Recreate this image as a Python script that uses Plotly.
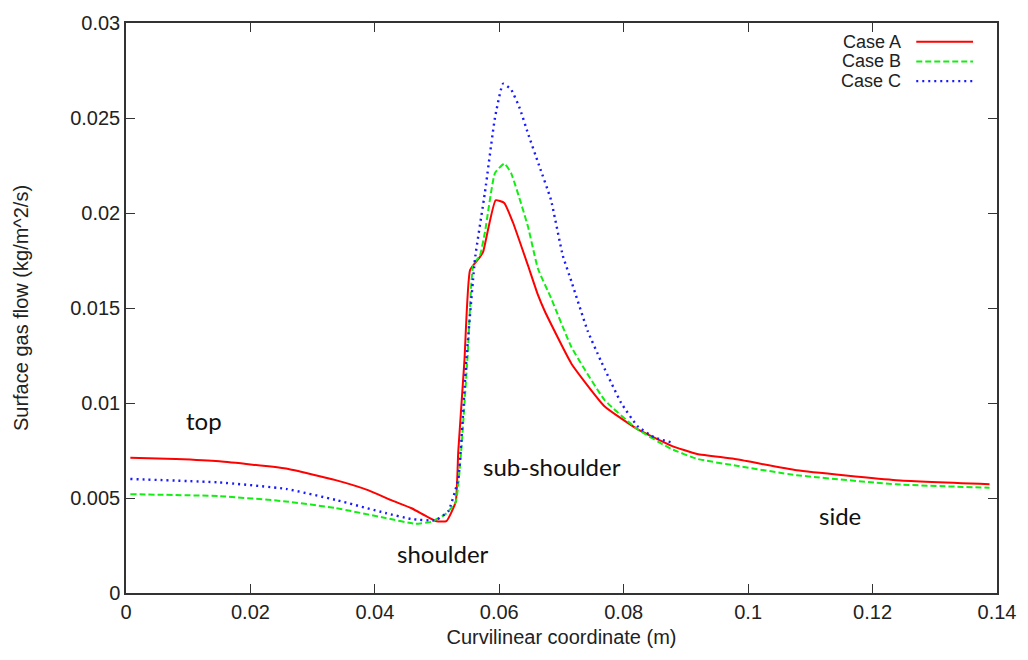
import plotly.graph_objects as go

# ---------------- data ----------------
case_a_x = [0.0007, 0.008, 0.015, 0.0257, 0.0337, 0.039, 0.0425, 0.0459, 0.0499, 0.0515,
            0.053, 0.0534, 0.0544, 0.0553, 0.0569, 0.0574, 0.0594, 0.0608, 0.0622, 0.0646, 0.0662,
            0.0673, 0.0716, 0.0769, 0.0822, 0.0876, 0.0918, 0.0977, 0.1078, 0.1238, 0.1388]
case_a_y = [0.00712, 0.00705, 0.00693, 0.00655, 0.00594, 0.0054, 0.0049, 0.00446, 0.00378, 0.00378,
            0.0048, 0.0074, 0.01224, 0.0170, 0.01769, 0.01795, 0.02067, 0.02053, 0.0195, 0.01725, 0.0157,
            0.01484, 0.01207, 0.00983, 0.00862, 0.00776, 0.00732, 0.00706, 0.00646, 0.00594, 0.00573]

case_b_x = [0.0007, 0.015, 0.0257, 0.0337, 0.0417, 0.0465, 0.0491, 0.0513, 0.053, 0.0549, 0.0558,
            0.0569, 0.0577, 0.0593, 0.0608, 0.0619, 0.0646, 0.0662, 0.0683, 0.0716, 0.0769, 0.0822,
            0.0876, 0.0918, 0.0977, 0.1078, 0.1238, 0.1388]
case_b_y = [0.0052, 0.0051, 0.00482, 0.00447, 0.00395, 0.00364, 0.00375, 0.00414, 0.0048, 0.01243, 0.01725,
            0.01777, 0.0190, 0.0221, 0.0226, 0.0221, 0.0193, 0.01708, 0.01554, 0.01294, 0.01017, 0.00862,
            0.00759, 0.00706, 0.00672, 0.0062, 0.00572, 0.00554]

case_c_x = [0.0007, 0.015, 0.0257, 0.0337, 0.0417, 0.0459, 0.0498, 0.0518, 0.0534, 0.0547, 0.0561,
            0.0577, 0.0593, 0.0606, 0.0619, 0.0633, 0.0646, 0.0664, 0.0683, 0.0702, 0.0716, 0.0742, 0.0763,
            0.0796, 0.0822, 0.0849, 0.0881]
case_c_y = [0.0060, 0.00582, 0.00548, 0.0049, 0.00421, 0.00389, 0.00383, 0.0043, 0.0060, 0.01224, 0.0176,
            0.0211, 0.0250, 0.0268, 0.0265, 0.0255, 0.0242, 0.0225, 0.0207, 0.01777, 0.01639, 0.0138, 0.01224,
            0.0100, 0.00879, 0.00819, 0.00789]

series_names = ["Case A", "Case B", "Case C"]

x_tick_vals = [0, 0.02, 0.04, 0.06, 0.08, 0.1, 0.12, 0.14]
x_tick_text = ["0", "0.02", "0.04", "0.06", "0.08", "0.1", "0.12", "0.14"]
y_tick_vals = [0, 0.005, 0.01, 0.015, 0.02, 0.025, 0.03]
y_tick_text = ["0", "0.005", "0.01", "0.015", "0.02", "0.025", "0.03"]

region_labels = ["top", "shoulder", "sub-shoulder", "side"]
region_x = [0.0125, 0.0509, 0.0685, 0.1147]
region_y = [0.0091, 0.00207, 0.00668, 0.00409]

# ---------------- styles ----------------
colors = ["#ff0000", "#11ee11", "#1a1aff"]
dashes = ["solid", "6px,3px", "2px,4px"]
widths = [2, 2, 2.4]
AX_FONT = dict(family="Liberation Sans, Arial, sans-serif", size=20, color="#222222")
LEG_FONT = dict(family="Liberation Sans, Arial, sans-serif", size=18, color="#222222")

fig = go.Figure()
for name, xs, ys, c, d, w in zip(series_names, [case_a_x, case_b_x, case_c_x],
                                 [case_a_y, case_b_y, case_c_y], colors, dashes, widths):
    fig.add_trace(go.Scatter(x=xs, y=ys, mode="lines", name=name,
                             line=dict(color=c, width=w, dash=d, shape="spline", smoothing=0.4),
                             showlegend=False))

# region labels
for t, xv, yv in zip(region_labels, region_x, region_y):
    fig.add_annotation(x=xv, y=yv, xref="x", yref="y", text=t, showarrow=False,
                       font=dict(family="Lato, Open Sans, sans-serif", size=24, color="#111111"))

# manual legend (text left of sample line)
legend_y = [0.9672, 0.9326, 0.8981]
for name, c, d, w, ly in zip(series_names, colors, dashes, widths, legend_y):
    fig.add_annotation(x=0.8913, y=ly, xref="paper", yref="paper", text=name, showarrow=False,
                       xanchor="right", yanchor="middle", borderpad=0, font=LEG_FONT)
    fig.add_shape(type="line", xref="paper", yref="paper", x0=0.9073, x1=0.9725, y0=ly, y1=ly,
                  line=dict(color=c, width=w, dash=d))

axis_common = dict(showgrid=False, zeroline=False, showline=True, linecolor="#333333", linewidth=1.5,
                   mirror="ticks", ticks="inside", ticklen=9, tickwidth=1.2, tickcolor="#333333",
                   tickfont=AX_FONT)

fig.update_xaxes(range=[0, 0.14], tickvals=x_tick_vals, ticktext=x_tick_text,
                 title=dict(text="Curvilinear coordinate (m)", font=AX_FONT, standoff=8), **axis_common)
fig.update_yaxes(range=[0, 0.03], tickvals=y_tick_vals, ticktext=y_tick_text,
                 title=dict(text="Surface gas flow (kg/m^2/s)", font=AX_FONT, standoff=36), **axis_common)

fig.update_layout(width=1028, height=660, margin=dict(l=126, r=28, t=14, b=67),
                  plot_bgcolor="white", paper_bgcolor="white")

fig.write_html("out.html")
